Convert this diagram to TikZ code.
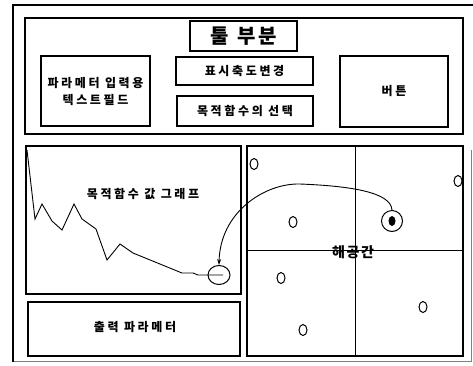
\documentclass[tikz,border=0pt]{standalone}
\usepackage{fontspec}
\newfontfamily\kr[LetterSpace=22]{Noto Sans CJK KR}
\newfontfamily\krt[LetterSpace=12]{Noto Sans CJK KR}
\newcommand{\wsp}{\hspace{0.45em}}
\usetikzlibrary{arrows.meta,shapes.geometric}
\begin{document}
\begin{tikzpicture}[x=1pt,y=-1pt,
  panel/.style={draw,line width=1.4pt,rectangle,inner sep=0pt,outer sep=0pt},
  box/.style={draw,line width=1.1pt,rectangle,inner sep=0pt,outer sep=0pt,align=center,font=\kr\bfseries\fontsize{12}{16}\selectfont},
  lbl/.style={inner sep=0pt,font=\kr\bfseries\fontsize{12}{16}\selectfont},
  dot/.style={draw,line width=1pt,ellipse,minimum width=8pt,minimum height=11pt,inner sep=0pt}]
\useasboundingbox (0,0) rectangle (473,365);
% outer frame
\draw[line width=0.6pt,gray] (471,150) -- (471,361) -- (13,361);
\draw[line width=2.2pt] (13,362) -- (13,5) -- (473,5);
% top panel
\node[panel,line width=1.8pt,minimum width=438pt,minimum height=116pt] (top) at (244,76) {};
\node[box,line width=2pt,minimum width=107pt,minimum height=30pt,font=\krt\bfseries\fontsize{20}{24}\selectfont] (title) at (243.5,36) {툴\wsp 부분};
\node[box,minimum width=109pt,minimum height=70pt] (param) at (95.5,91) {파라메터\wsp 입력용\\[1pt]텍스트필드};
\node[box,minimum width=137pt,minimum height=28pt] (scale) at (244.5,71) {표시축도변경};
\node[box,minimum width=136pt,minimum height=30pt] (objsel) at (245,111) {목적함수의\wsp 선택};
\node[box,minimum width=108pt,minimum height=71pt] (button) at (394,91.5) {버튼};
% graph panel
\node[panel,minimum width=215pt,minimum height=148pt] (graph) at (133.5,220) {};
\node[lbl] (graphlbl) at (143,194) {목적함수\wsp 값\wsp 그래프};
\draw[line width=0.9pt] (27,150) -- (35,219) -- (42,204) -- (52,221) -- (62,230) -- (74,204) -- (82,219) -- (96,229) -- (107,260) -- (120,244) -- (133,253) -- (182,273) -- (193,273) -- (198,275) -- (223,275);
\node[draw,line width=1pt,ellipse,minimum width=22pt,minimum height=19pt,inner sep=0pt] (target) at (219,275) {};
% output panel
\node[panel,minimum width=212pt,minimum height=54pt] (output) at (134,329) {};
\node[lbl] (outlbl) at (135,327) {출력\wsp 파라메터};
% solution space
\node[panel,minimum width=216pt,minimum height=210pt] (space) at (355,251) {};
\draw[line width=0.8pt] (space.north) -- (space.south);
\draw[line width=0.8pt] (space.west |- 0,250) -- (space.east |- 0,250);
\node[lbl,font=\krt\bfseries\fontsize{14}{16}\selectfont] (spacelbl) at (353,252) {해공간};
\node[dot] (d1) at (254,164) {};
\node[dot] (d2) at (458,181) {};
\node[dot] (d3) at (293,222) {};
\node[dot] (d4) at (281,278) {};
\node[dot] (d5) at (423,307) {};
\node[dot] (d6) at (303,330) {};
\node[draw,line width=1pt,circle,minimum size=21pt,inner sep=0pt] (best) at (392,221) {};
\node[fill=black,ellipse,minimum width=7pt,minimum height=10pt,inner sep=0pt] (bestcore) at (392,221) {};
% arrow
\draw[line width=0.9pt,-{Stealth[length=6pt,width=4pt]}] (best.north) .. controls (391,192) and (350,186) .. (300,184) .. controls (265,183) and (220,212) .. (target.north);
\end{tikzpicture}
\end{document}
